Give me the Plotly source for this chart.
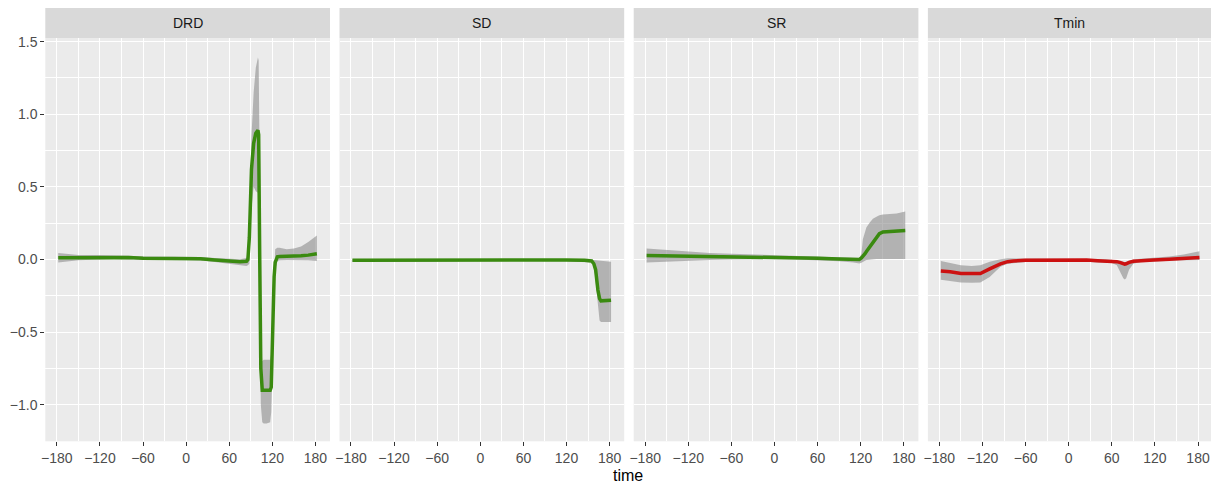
"""Faceted smooth curves with confidence bands (ggplot-like look)."""
import plotly.graph_objects as go

# ---- data ------------------------------------------------------------------
panels = ["DRD", "SD", "SR", "Tmin"]

drd_time = [-178, -150, -120, -100, -80, -60, -30, 0, 20, 40, 60, 75, 84, 86, 88, 91, 94, 97, 100,
            101, 102.5, 104, 106, 108, 112, 117, 118.5, 120.8, 122.5, 124, 127, 130, 140, 150, 160, 170, 182]
drd_mean = [0.012, 0.013, 0.015, 0.016, 0.013, 0.008, 0.007, 0.007, 0.005, -0.003, -0.012, -0.016, -0.012,
            0.0, 0.15, 0.62, 0.8, 0.87, 0.89, 0.86, 0.0, -0.75, -0.9, -0.9, -0.9, -0.9, -0.88, -0.33,
            -0.12, -0.02, 0.018, 0.02, 0.02, 0.021, 0.025, 0.03, 0.04]
drd_lo = [-0.02, -0.005, 0.0, 0.003, 0.0, -0.003, -0.003, -0.003, -0.007, -0.018, -0.032, -0.04, -0.045,
          -0.04, -0.03, 0.35, 0.5, 0.47, 0.46, 0.45, -0.2, -1.0, -1.12, -1.13, -1.13, -1.12, -1.05, -0.55,
          -0.25, -0.07, -0.01, -0.005, -0.004, -0.003, -0.003, -0.005, -0.01]
drd_hi = [0.045, 0.03, 0.03, 0.03, 0.026, 0.02, 0.018, 0.018, 0.017, 0.01, 0.004, 0.002, 0.01, 0.04, 0.3,
          0.85, 1.15, 1.32, 1.39, 1.37, 0.6, -0.55, -0.7, -0.69, -0.69, -0.69, -0.65, -0.3, 0.0, 0.07,
          0.08, 0.08, 0.07, 0.075, 0.09, 0.12, 0.165]

sd_time = [-178, -120, -60, 0, 40, 80, 120, 145, 150, 155, 158, 160.5, 163.7, 166, 168, 175, 182]
sd_mean = [-0.006, -0.005, -0.003, 0.0, 0.0, -0.001, -0.003, -0.005, -0.006, -0.01, -0.03, -0.07, -0.21,
           -0.27, -0.285, -0.285, -0.28]
sd_lo = [-0.015, -0.013, -0.011, -0.008, -0.008, -0.01, -0.012, -0.015, -0.016, -0.02, -0.03, -0.15,
         -0.33, -0.42, -0.43, -0.43, -0.43]
sd_hi = [0.004, 0.004, 0.005, 0.007, 0.007, 0.006, 0.004, 0.002, 0.0, -0.002, -0.005, -0.006, -0.008,
         -0.01, -0.01, -0.012, -0.015]

sr_time = [-178, -150, -120, -90, -60, -30, 0, 30, 60, 90, 110, 118, 121, 123, 126, 128, 132.6, 137,
           141.9, 146, 151, 160, 170, 182]
sr_mean = [0.028, 0.026, 0.024, 0.022, 0.02, 0.018, 0.016, 0.013, 0.008, 0.003, -0.002, 0.0, 0.01, 0.02,
           0.04, 0.055, 0.087, 0.125, 0.156, 0.178, 0.19, 0.193, 0.195, 0.2]
sr_lo = [-0.02, -0.014, -0.008, -0.004, 0.0, 0.002, 0.002, -0.001, -0.005, -0.012, -0.02, -0.028,
         -0.022, -0.015, -0.008, -0.004, 0.0, 0.002, 0.003, 0.003, 0.003, 0.004, 0.004, 0.004]
sr_hi = [0.075, 0.065, 0.055, 0.045, 0.04, 0.035, 0.03, 0.028, 0.022, 0.015, 0.01, 0.01, 0.04, 0.14,
         0.19, 0.222, 0.255, 0.28, 0.295, 0.305, 0.31, 0.315, 0.317, 0.33]

tmin_time = [-178, -165, -150, -135, -123, -110, -95, -85, -77, -60, -30, 0, 25, 40, 52, 60, 67, 72, 76,
             78, 80, 84, 90, 100, 118, 140, 160, 182]
tmin_mean = [-0.08, -0.085, -0.097, -0.098, -0.097, -0.065, -0.03, -0.015, -0.01, -0.006, -0.004, -0.003,
             -0.004, -0.008, -0.01, -0.012, -0.015, -0.022, -0.03, -0.032, -0.03, -0.02, -0.012, -0.007,
             -0.003, 0.002, 0.007, 0.014]
tmin_lo = [-0.14, -0.15, -0.158, -0.16, -0.158, -0.12, -0.05, -0.03, -0.025, -0.018, -0.015, -0.013,
           -0.015, -0.02, -0.022, -0.025, -0.04, -0.09, -0.13, -0.138, -0.13, -0.07, -0.03, -0.018,
           -0.013, -0.01, -0.006, -0.003]
tmin_hi = [-0.01, -0.025, -0.04, -0.045, -0.04, -0.015, 0.002, 0.008, 0.008, 0.006, 0.006, 0.007, 0.006,
           0.003, 0.002, 0.0, -0.002, -0.008, -0.015, -0.018, -0.015, -0.008, 0.0, 0.005, 0.01, 0.02,
           0.035, 0.057]

series = {
    "DRD": (drd_time, drd_mean, drd_lo, drd_hi, "#3a8a10"),
    "SD": (sd_time, sd_mean, sd_lo, sd_hi, "#3a8a10"),
    "SR": (sr_time, sr_mean, sr_lo, sr_hi, "#3a8a10"),
    "Tmin": (tmin_time, tmin_mean, tmin_lo, tmin_hi, "#cc1111"),
}

x_ticks = [-180, -120, -60, 0, 60, 120, 180]
y_ticks = [-1.0, -0.5, 0.0, 0.5, 1.0, 1.5]

# ---- geometry (pixels of the 1211x484 window) ------------------------------
W, H = 1211, 484
panel_left = 45.3
panel_step = 294.2
panel_width = 284.7
panel_top, panel_bottom = 38.0, 441.3
strip_top = 8.0
px_per_unit = 0.7184
x_lo = -196.0

PANEL_BG = "#ebebeb"
STRIP_BG = "#d9d9d9"
FONT = "Liberation Sans, Arial, sans-serif"

fig = go.Figure()
layout = {}
shapes = []
annotations = []

y_domain = [(H - panel_bottom) / H, (H - panel_top) / H]

for i, name in enumerate(panels):
    t, mean, lo, hi, color = series[name]
    sfx = "" if i == 0 else str(i + 1)
    xa, ya = "x" + sfx, "y" + sfx

    fig.add_trace(go.Scatter(x=t, y=hi, mode="lines", line=dict(width=0), xaxis=xa, yaxis=ya,
                             showlegend=False, hoverinfo="skip"))
    fig.add_trace(go.Scatter(x=t, y=lo, mode="lines", line=dict(width=0), fill="tonexty",
                             fillcolor="rgba(140,140,140,0.6)", xaxis=xa, yaxis=ya,
                             showlegend=False, hoverinfo="skip"))
    fig.add_trace(go.Scatter(x=t, y=mean, mode="lines", line=dict(color=color, width=3.5),
                             xaxis=xa, yaxis=ya, showlegend=False, name=name))

    left = panel_left + i * panel_step
    right = min(left + panel_width, W)
    x_hi = x_lo + (right - left) / px_per_unit
    layout["xaxis" + sfx] = dict(
        domain=[left / W, right / W], anchor=ya, range=[x_lo, x_hi],
        tickvals=x_ticks, ticks="outside", ticklen=4, tickcolor="#333333", tickwidth=1,
        tickfont=dict(family=FONT, size=14, color="#4d4d4d"),
        showgrid=True, gridcolor="white", gridwidth=1.4, zeroline=False, showline=False,
        minor=dict(dtick=30, tick0=0, showgrid=True, gridcolor="white", gridwidth=0.7),
        automargin=False, fixedrange=True,
    )
    layout["yaxis" + sfx] = dict(
        domain=y_domain, anchor=xa, range=[-1.252, 1.525],
        tickvals=y_ticks, tickformat=".1f", showticklabels=(i == 0),
        ticks="outside" if i == 0 else "", ticklen=4, tickcolor="#333333", tickwidth=1,
        tickfont=dict(family=FONT, size=14, color="#4d4d4d"),
        showgrid=True, gridcolor="white", gridwidth=1.4, zeroline=False, showline=False,
        minor=dict(dtick=0.25, tick0=0, showgrid=True, gridcolor="white", gridwidth=0.7),
        automargin=False, fixedrange=True,
    )
    if i > 0:
        layout["yaxis" + sfx]["matches"] = "y"

    shapes.append(dict(type="rect", xref="paper", yref="paper", x0=left / W, x1=right / W,
                       y0=(H - panel_top) / H, y1=(H - strip_top) / H,
                       fillcolor=STRIP_BG, line=dict(width=0), layer="below"))
    annotations.append(dict(text=name, xref="paper", yref="paper", x=(left + right) / 2 / W,
                            y=(H - (panel_top + strip_top) / 2) / H, showarrow=False,
                            xanchor="center", yanchor="middle",
                            font=dict(family=FONT, size=14, color="#1a1a1a")))

annotations.append(dict(text="time", xref="paper", yref="paper", x=628 / W, y=(H - 475) / H,
                        showarrow=False, xanchor="center", yanchor="middle",
                        font=dict(family=FONT, size=16, color="black")))

fig.update_layout(
    width=W, height=H,
    margin=dict(l=0, r=0, t=0, b=0),
    paper_bgcolor="white", plot_bgcolor=PANEL_BG,
    showlegend=False,
    shapes=shapes, annotations=annotations,
    **layout,
)

# drop the default 8px body margin so the figure fills the window exactly
fig.write_html("out.html", config={"displayModeBar": False},
               post_script="document.body.style.margin='0';")
